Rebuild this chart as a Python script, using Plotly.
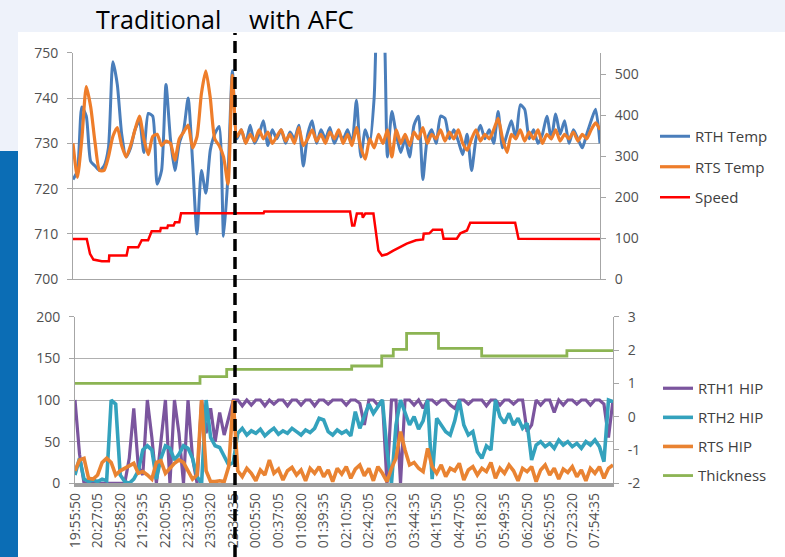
import plotly.graph_objects as go

# ---------------- data ----------------
SAMPLE_MIN = 6.25  # minutes between samples
N = 120
times = [SAMPLE_MIN * i for i in range(N)]  # minutes since 19:55:50

TICK_LABELS = ["19:55:50", "20:27:05", "20:58:20", "21:29:35", "22:00:50", "22:32:05",
               "23:03:20", "23:34:35", "00:05:50", "00:37:05", "01:08:20", "01:39:35",
               "02:10:50", "02:42:05", "03:13:20", "03:44:35", "04:15:50", "04:47:05",
               "05:18:20", "05:49:35", "06:20:50", "06:52:05", "07:23:20", "07:54:35"]
TICK_STEP_MIN = 31.25

rth_temp = [
    722, 724, 738, 736, 726, 725, 724, 725, 729, 748,
    743, 732, 727, 729, 733, 735, 728, 736.6, 736, 721,
    724, 743, 731, 724, 730, 733, 740, 726, 710, 724,
    719, 728.5, 732, 733.7, 709.5, 723, 746, 731, 733, 730,
    734, 730, 732, 735, 729.5, 733, 731, 733, 730, 732.5,
    731, 734, 725, 732, 735, 730, 733, 731, 733.5, 730,
    732, 731, 733, 730, 739.5, 727, 733, 730, 740, 765,
    762, 727, 737, 732, 728, 731, 727, 734, 736, 722,
    731, 733, 730, 736, 735.5, 731, 733, 730.5, 727.5, 732,
    724, 731, 734, 731, 733, 730, 737, 729, 732, 735,
    731, 738.5, 737.5, 731, 733, 730, 732, 736, 731, 736.5,
    732, 735, 730, 733, 731, 729, 732, 735, 737.5, 730]

rts_temp = [
    730, 722.5, 731, 742.5, 738, 730, 724, 724, 727, 731.5,
    733.5, 729.5, 727, 729.5, 733, 736, 731, 727.5, 731.5, 732,
    729.5, 730.5, 730, 726.3, 731, 732.5, 734, 729, 731.5, 741,
    746, 740, 731, 729.5, 727, 721, 745, 731.5, 733, 730,
    732, 730.5, 733, 731, 732.5, 730, 731.5, 733, 730.5, 732,
    730, 733.5, 729.5, 731, 733, 730.5, 732, 730, 732.5, 731,
    733, 730, 732, 729.5, 733.5, 729, 726.5, 731, 729, 732,
    730, 733, 727, 733, 730, 732, 729.5, 732.5, 731, 733.5,
    730, 732, 731, 733, 730.5, 732.5, 731, 733, 730, 728.5,
    731, 733, 730.5, 732, 731, 733, 735.5, 731, 728, 732,
    731, 733, 730.5, 732.5, 731, 733, 730, 732, 731, 733,
    730.5, 732, 731, 732.5, 730.5, 732, 731, 733, 734.5, 733]

speed_t = [0, 19.4, 24, 28.8, 40.6, 50.6, 51.2, 75.6, 78, 92,
           97, 106, 111, 123, 124, 133, 134, 142, 144, 150,
           152.5, 269, 270, 391, 394, 397, 400.6, 408, 409, 412.5,
           424, 426.5, 431, 436, 443, 452, 461.5, 471, 484, 494,
           495, 503, 508, 520.6, 523, 541.6, 546.6, 556, 560.6, 624,
           628.75, 743.75]
speed_v = [98, 98, 62, 48, 44, 44, 58, 58, 78, 78,
           95, 95, 117, 117, 125, 125, 131, 131, 139, 139,
           161, 161, 165, 165, 131, 131, 160, 160, 150, 160,
           160, 127, 70, 58, 61, 70, 78, 87, 95, 97,
           111, 112, 121, 121, 99, 99, 112, 119, 137.5, 137.5,
           99, 98]

rth1_hip = [
    100, 35, 0, 0, 0, 0, 0, 0, 0, 0,
    0, 0, 30, 90, 20, 10, 100, 55, 0, 50,
    100, 0, 100, 60, 0, 100, 30, 0, 100, 60,
    90, 50, 85, 58, 80, 100, 100, 93, 100, 94,
    100, 100, 93, 100, 95, 100, 100, 93, 100, 100,
    94, 100, 100, 93, 100, 100, 95, 100, 100, 100,
    94, 100, 100, 96, 70, 100, 100, 94, 100, 0,
    100, 100, 0, 100, 100, 94, 100, 90, 100, 100,
    95, 100, 100, 94, 90, 100, 100, 95, 100, 100,
    100, 93, 100, 100, 94, 100, 100, 95, 100, 100,
    62, 70, 100, 94, 100, 100, 85, 100, 94, 100,
    100, 95, 100, 100, 94, 100, 100, 95, 55, 100]

rth2_hip = [
    10, 30, 5, 2, 4, 2, 5, 3, 100, 95,
    10, 2, 0, 5, 15, 40, 45, 40, 5, 30,
    45, 42, 28, 35, 45, 42, 30, 8, 0, 100,
    55, 45, 43, 33, 22, 25, 60, 66, 58, 63,
    60, 65, 57, 62, 66, 59, 63, 60, 66, 62,
    58, 64, 61, 66, 78, 76, 62, 58, 64, 60,
    63, 57, 86, 66, 82, 95, 84, 92, 100, 40,
    0, 70, 100, 85, 70, 80, 65, 75, 100, 5,
    78, 70, 62, 58, 75, 100, 70, 58, 62, 38,
    30, 45, 40, 100, 80, 72, 84, 70, 78, 66,
    72, 28, 46, 50, 44, 48, 42, 52, 46, 50,
    44, 48, 42, 50, 46, 52, 44, 26, 100, 98]

rts_hip = [
    15, 28, 30, 6, 5, 10, 25, 30, 25, 10,
    15, 18, 22, 24, 12, 14, 10, 5, 25, 27,
    12, 18, 24, 28, 25, 15, 5, 10, 100, 15,
    2, 2, 3, 2, 20, 100, 15, 8, 18, 12,
    3, 16, 10, 28, 12, 17, 4, 15, 19, 10,
    16, 3, 18, 12, 20, 8, 16, 2, 18, 11,
    20, 6, 17, 22, 9, 18, 3, 20, 12, 2,
    18, 30, 62, 40, 22, 25, 18, 14, 42, 20,
    12, 22, 8, 18, 15, 24, 4, 16, 20, 10,
    18, 14, 25, 6, 18, 12, 22, 15, 3, 18,
    14, 20, 2, 16, 22, 10, 18, 5, 17, 13,
    20, 8, 16, 3, 18, 12, 20, 6, 18, 22]

thickness_t = [0, 172.8, 209.7, 382.5, 424, 440, 458.4, 502.5, 562.2, 680, 743.75]
thickness_v = [1.0, 1.2, 1.42, 1.52, 1.82, 2.02, 2.5, 2.05, 1.82, 1.98, 1.98]

HEADINGS = ["Traditional", "with AFC"]

# ---------------- style ----------------
W, H = 785, 557
FONT = "Open Sans"
GRID = "#B0B0B0"
AX = "#A6A6A6"
TICKC = "#505050"
C_RTH = "#4A7EBB"
C_RTS = "#EE7D2A"
C_SPD = "#FF0000"
C_H1 = "#7B559E"
C_H2 = "#34A2BD"
C_H3 = "#E98332"
C_TH = "#8CB453"


def px_x(p):
    return p / W


def px_y(p):
    return 1 - p / H


fig = go.Figure()
fig.add_trace(go.Scatter(x=times, y=rth_temp, name="RTH Temp", mode="lines",
                         line=dict(color=C_RTH, width=3, shape="spline", smoothing=0.6),
                         xaxis="x", yaxis="y", legend="legend", legendgroup="a"))
fig.add_trace(go.Scatter(x=times, y=rts_temp, name="RTS Temp", mode="lines",
                         line=dict(color=C_RTS, width=3.2, shape="spline", smoothing=0.6),
                         xaxis="x", yaxis="y", legend="legend", legendgroup="b"))
fig.add_trace(go.Scatter(x=speed_t, y=speed_v, name="Speed", mode="lines",
                         line=dict(color=C_SPD, width=2.5), xaxis="x", yaxis="y2",
                         legend="legend", legendgroup="c"))
fig.add_trace(go.Scatter(x=times, y=rth1_hip, name="RTH1 HIP", mode="lines",
                         line=dict(color=C_H1, width=3.2), xaxis="x2", yaxis="y3",
                         legend="legend2", legendgroup="d"))
fig.add_trace(go.Scatter(x=times, y=rth2_hip, name="RTH2 HIP", mode="lines",
                         line=dict(color=C_H2, width=3.6), xaxis="x2", yaxis="y3",
                         legend="legend2", legendgroup="e"))
fig.add_trace(go.Scatter(x=times, y=rts_hip, name="RTS HIP", mode="lines",
                         line=dict(color=C_H3, width=3.6), xaxis="x2", yaxis="y3",
                         legend="legend2", legendgroup="f"))
fig.add_trace(go.Scatter(x=thickness_t, y=thickness_v, name="Thickness", mode="lines",
                         line=dict(color=C_TH, width=2.8, shape="hv"), xaxis="x2", yaxis="y4",
                         legend="legend2", legendgroup="g"))

tickfont = dict(family=FONT, size=14, color=TICKC)
xr = [0, SAMPLE_MIN * (N - 1)]
tick_pos = [TICK_STEP_MIN * k for k in range(len(TICK_LABELS))]

yax_common = dict(tickfont=tickfont, showline=True, linecolor=AX, linewidth=1,
                  ticks="outside", ticklen=5, tickcolor=AX, zeroline=False,
                  automargin=False, ticklabelstandoff=6)

legend_font = dict(family=FONT, size=15, color="#404040")

fig.update_layout(
    width=W, height=H, margin=dict(l=0, r=0, t=0, b=0, pad=0, autoexpand=False),
    paper_bgcolor="#EEF2FA", plot_bgcolor="rgba(0,0,0,0)",
    font=dict(family=FONT, color="#404040"),
    xaxis=dict(domain=[px_x(73), px_x(600)], anchor="y", range=xr,
               showticklabels=False, showgrid=False, showline=True, automargin=False,
               linecolor=AX, zeroline=False, ticks=""),
    yaxis=dict(domain=[px_y(279.3), px_y(52.7)], anchor="x", range=[700, 750],
               dtick=10, showgrid=True, gridcolor=GRID, gridwidth=1, **yax_common),
    yaxis2=dict(overlaying="y", side="right", anchor="x", range=[0, 552],
                tickvals=[0, 100, 200, 300, 400, 500], showgrid=False, **yax_common),
    xaxis2=dict(domain=[px_x(75), px_x(613)], anchor="y3", range=xr,
                tickvals=tick_pos, ticktext=TICK_LABELS, tickangle=-90, automargin=False,
                tickfont=tickfont, showgrid=False, showline=True,
                linecolor="#A0A0A0", linewidth=4, zeroline=False, ticks=""),
    yaxis3=dict(domain=[px_y(483.3), px_y(316.7)], anchor="x2", range=[0, 200],
                dtick=50, showgrid=True, gridcolor=GRID, gridwidth=1, **yax_common),
    yaxis4=dict(overlaying="y3", side="right", anchor="x2", range=[-2, 3],
                tickvals=[-2, -1, 0, 1, 2, 3], ticktext=["-2", "-1", "0", "1", "2", "3"],
                showgrid=False, **yax_common),
    legend=dict(x=px_x(655), y=px_y(120), xanchor="left", yanchor="top",
                bgcolor="rgba(0,0,0,0)", font=legend_font, tracegroupgap=8),
    legend2=dict(x=px_x(658), y=px_y(372), xanchor="left", yanchor="top",
                 bgcolor="rgba(0,0,0,0)", font=legend_font, tracegroupgap=6.6),
    showlegend=True,
)

# slide background: white panel and dark blue side bar
fig.add_shape(type="rect", xref="paper", yref="paper", x0=px_x(18), x1=1, y0=0, y1=px_y(32),
              fillcolor="white", line=dict(width=0), layer="below")
fig.add_shape(type="rect", xref="paper", yref="paper", x0=0, x1=px_x(18), y0=0, y1=px_y(151),
              fillcolor="#0B6DB5", line=dict(width=0), layer="below")

# divider between traditional and AFC operation
fig.add_shape(type="line", xref="paper", yref="paper", x0=px_x(235), x1=px_x(235),
              y0=0, y1=px_y(33), line=dict(color="black", width=3.5, dash="12px,6px"),
              layer="above")

fig.add_annotation(text=HEADINGS[0], xref="paper", yref="paper", x=px_x(158), y=px_y(19),
                   showarrow=False, xanchor="center", yanchor="middle",
                   font=dict(family=FONT, size=25, color="black"))
fig.add_annotation(text=HEADINGS[1], xref="paper", yref="paper", x=px_x(301), y=px_y(19),
                   showarrow=False, xanchor="center", yanchor="middle",
                   font=dict(family=FONT, size=26, color="black"))

fig.write_html("out.html", config={"displayModeBar": False},
               post_script="document.body.style.margin='0';")
